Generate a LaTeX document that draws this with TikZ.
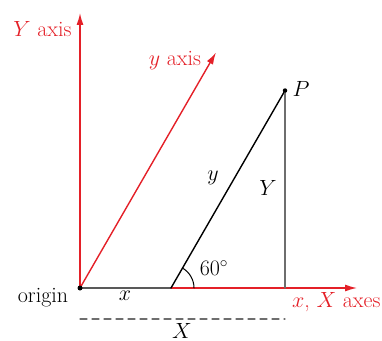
\RequirePackage{fix-cm}
\documentclass[tikz,border=0pt]{standalone}
\usetikzlibrary{arrows.meta,calc}
\definecolor{axisred}{RGB}{228,32,40}
\definecolor{legray}{RGB}{110,110,110}
\tikzset{
  axis/.style={axisred,line width=1.4pt,-{Latex[length=12pt,width=7pt]}},
  leg/.style={line width=1.4pt},
  dot/.style={circle,fill=black,inner sep=0pt,minimum size=5pt},
}
\begin{document}
\begin{tikzpicture}[x=1pt,y=1pt,line cap=round,line join=round,
  font=\fontsize{22}{26}\selectfont]
  \useasboundingbox (0,0) rectangle (382,340);
  % points
  \coordinate (O) at (80,52);
  \coordinate (Ytip) at (80,327);
  \coordinate (ytip) at ($(O)+(60:272)$);
  \coordinate (xtip) at (357,52);
  \coordinate (A) at (171,52);
  \coordinate (P) at ($(A)+(60:228)$);
  \coordinate (B) at (P |- O);
  % axes
  \draw[axis] (A) -- (xtip);
  \draw[axis] (O) -- (Ytip);
  \draw[axis] (O) -- (ytip);
  % triangle
  \draw[leg] (O) -- (A) -- (P);
  \draw[leg,legray] (P) -- (B);
  \draw[legray,line width=1.2pt,dash pattern=on 7pt off 5pt] (80,21) -- (285,21);
  \draw[line width=1pt] ($(A)+(23,0)$) arc[start angle=0,end angle=60,radius=23];
  \node[dot] (o) at (O) {};
  \node[dot,minimum size=4.5pt] (p) at (P) {};
  % labels
  \node[axisred,anchor=east] (Ylab) at (75,311) {$Y$ axis};
  \node[axisred] (ylab) at (175,279) {$y$ axis};
  \node[axisred,anchor=east] (xlab) at (384,38) {$x$, $X$ axes};
  \node (orig) at (43,42) {origin};
  \node (xs) at (125,44) {$x$};
  \node[anchor=base,inner sep=0pt] (Xs) at (182,2) {$X$};
  \node (ys) at (213,162) {$y$};
  \node (Ys) at (268,152) {$Y$};
  \node[right] (Pl) at (289,251) {$P$};
  \node (ang) at (214,72) {$60^\circ$};
\end{tikzpicture}
\end{document}
